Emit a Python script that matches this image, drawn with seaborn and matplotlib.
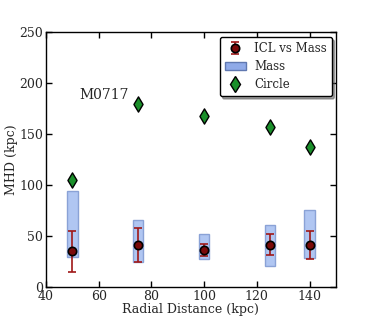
import matplotlib
matplotlib.use("Agg")
import matplotlib.pyplot as plt
import seaborn as sns
import numpy as np
import pandas as pd
from matplotlib.patches import Rectangle
from matplotlib.lines import Line2D

radius = [50, 75, 100, 125, 140]
icl = [35, 41, 36, 41, 41]
icl_lo = [15, 25, 30, 31, 27]
icl_hi = [55, 58, 42, 52, 55]
mass_lo = [29, 25, 27, 21, 28]
mass_hi = [94, 66, 52, 61, 76]
circle = [105, 179, 168, 157, 137]

sns.set_theme(style="white")
plt.rcParams['font.family'] = ['DejaVu Serif']
plt.rcParams['font.size'] = 9

fig, ax = plt.subplots(figsize=(3.74, 3.2), dpi=100)
fig.subplots_adjust(left=0.123, right=0.898, top=0.9, bottom=0.103)

df = pd.DataFrame({"r": radius, "icl": icl, "circle": circle})

box_fc = "#b0c6f2"
box_ec = "#8aa2d6"
for x, lo, hi in zip(radius, mass_lo, mass_hi):
    ax.add_patch(Rectangle((x - 2, lo), 4, hi - lo, facecolor=box_fc,
                           edgecolor=box_ec, lw=1, zorder=1))
mass_handle = Rectangle((0, 0), 1, 1, facecolor="#90aae8", edgecolor="#6078b0")

yerr = [np.array(icl) - np.array(icl_lo), np.array(icl_hi) - np.array(icl)]
eb = ax.errorbar(radius, icl, yerr=yerr, fmt="o", color="#a01818",
                 markerfacecolor="#7a0a0a", markeredgecolor="black",
                 markeredgewidth=1.2, markersize=6,
                 capsize=3, elinewidth=1.2, capthick=1.2, zorder=2)
sns.scatterplot(data=df, x="r", y="circle", ax=ax, color="#1a8f2a", marker="d",
                s=60, edgecolor="black", linewidth=1, zorder=3, legend=False)

circ_handle = Line2D([], [], color="#1a8f2a", marker="d", markersize=8,
                     markeredgecolor="black", markeredgewidth=1, ls="none")
leg = ax.legend([eb, mass_handle, circ_handle],
                ["ICL vs Mass", "Mass", "Circle"], loc="upper right",
                fontsize=8.5, frameon=True, fancybox=True, shadow=True,
                borderpad=0.4, labelspacing=0.45, handlelength=1.8,
                handletextpad=0.7, borderaxespad=0,
                bbox_to_anchor=(0.985, 0.98))
leg.get_frame().set_edgecolor("black")
leg.get_frame().set_alpha(1)
leg.get_frame().set_boxstyle("round", pad=0, rounding_size=0.15)

ax.text(52.5, 184, "M0717", fontsize=10)

ax.set_xlim(40, 150)
ax.set_ylim(0, 250)
ax.set_xticks([40, 60, 80, 100, 120, 140])
ax.set_yticks([0, 50, 100, 150, 200, 250])
ax.set_xlabel("Radial Distance (kpc)", fontsize=9, labelpad=0)
ax.set_ylabel("MHD (kpc)", fontsize=9, labelpad=1)
ax.tick_params(direction="in", length=4, width=1, top=True, right=True,
               bottom=True, left=True, labelsize=9, color="black", pad=2)
for s in ax.spines.values():
    s.set_color("black")
    s.set_linewidth(1)

fig.savefig("out.png", dpi=100)
